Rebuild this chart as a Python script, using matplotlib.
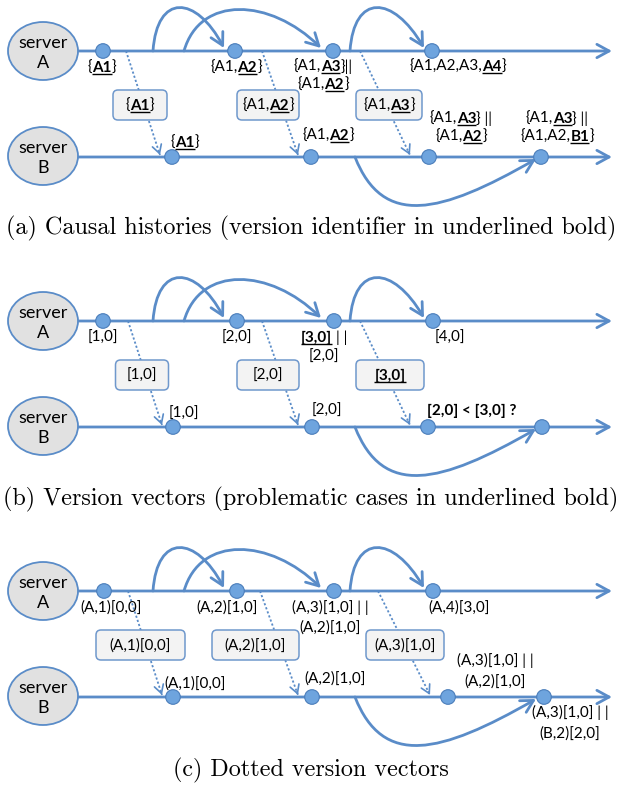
import re
import matplotlib
matplotlib.use('Agg')
import matplotlib.pyplot as plt
from matplotlib.patches import Ellipse, Circle, FancyBboxPatch, FancyArrowPatch
from matplotlib.path import Path

# ---------------- data (texts) ----------------
# markup: _x_ = bold + underlined, *x* = bold
captions = ["(a) Causal histories (version identifier in underlined bold)",
            "(b) Version vectors (problematic cases in underlined bold)",
            "(c) Dotted version vectors"]
servers = ["A", "B"]

a_top = [["{_A1_}"], ["{A1,_A2_}"], ["{A1,_A3_}||", "{A1,_A2_}"], ["{A1,A2,A3,_A4_}"]]
a_msg = ["{_A1_}", "{A1,_A2_}", "{A1,_A3_}"]
a_bot = [["{_A1_}"], ["{A1,_A2_}"], ["{A1,_A3_} ||", "{A1,_A2_}"], ["{A1,_A3_} ||", "{A1,A2,_B1_}"]]

b_top = [["[1,0]"], ["[2,0]"], ["_[3,0]_ | |", "[2,0]"], ["[4,0]"]]
b_msg = ["[1,0]", "[2,0]", "_[3,0]_"]
b_bot = [["[1,0]"], ["[2,0]"], ["*[2,0] < [3,0] ?*"], []]

c_top = [["(A,1)[0,0]"], ["(A,2)[1,0]"], ["(A,3)[1,0] | |", "(A,2)[1,0]"], ["(A,4)[3,0]"]]
c_msg = ["(A,1)[0,0]", "(A,2)[1,0]", "(A,3)[1,0]"]
c_bot = [["(A,1)[0,0]"], ["(A,2)[1,0]"], ["(A,3)[1,0] | |", "(A,2)[1,0]"], ["(A,3)[1,0] | |", "(B,2)[2,0]"]]

# ---------------- layout ----------------
W, H = 621, 787
OFFS = [0, 270, 540]
YA, YB = 51, 157
CAP_Y = [228, 499, 770]

dotsA = [[103, 235, 333, 432], [103, 237, 334, 433], [104, 237, 334, 433]]
dotsB = [[172, 311, 429, 541], [173, 312, 428, 542], [173, 312, 448, 544]]
topX = [[102, 236, 323, 458], [103, 237, 324, 450], [111, 227, 330, 459]]
topY = [[67, 67, 66, 66], [67, 67, 67, 67], [67, 67, 67, 67]]
topDY = [18, 19, 20]
botPos = [[(185, 142), (328, 135), (461, 118), (557, 118)],
          [(184, 143), (327, 140), (472, 140), (0, 0)],
          [(195, 143), (335, 138), (495, 120), (570, 172)]]
botDY = [18, 18, 21]
boxX = [[140, 268, 389], [142, 268, 390], [140.5, 255.5, 405]]
boxW = [[54, 62, 66], [53, 62, 68], [89, 87, 78]]
dotted = [[(126, 160), (262, 298), (360, 410)],
          [(128, 162), (262, 298), (360, 410)],
          [(128, 162), (260, 298), (378, 430)]]

LINE = '#5A8CC8'
EDGE = '#4A7DBA'
DOTF = '#6EA4DE'
FONT = 'Lato'
FS = 11

fig = plt.figure(figsize=(W / 100, H / 100), dpi=100)
ax = fig.add_axes([0, 0, 1, 1])
ax.set_xlim(0, W)
ax.set_ylim(H, 0)
ax.axis('off')
renderer = fig.canvas.get_renderer()


def parse(m):
    segs = []
    for part in re.split(r'(_[^_]*_|\*[^*]*\*)', m):
        if not part:
            continue
        if part[0] == '_':
            segs.append((part[1:-1], True, True))
        elif part[0] == '*':
            segs.append((part[1:-1], True, False))
        else:
            segs.append((part, False, False))
    return segs


def adv(s, bold, size):
    kw = dict(fontsize=size, fontweight='bold' if bold else 'normal', family=FONT)
    t1 = ax.text(0, 0, '|' + s + '|', **kw)
    t2 = ax.text(0, 0, '||', **kw)
    w = t1.get_window_extent(renderer).width - t2.get_window_extent(renderer).width
    t1.remove(); t2.remove()
    return w


def draw_line(xc, yc, m, size=FS, color='black'):
    segs = parse(m)
    widths = [adv(s, b, size) for s, b, u in segs]
    x = xc - sum(widths) / 2
    base = yc + 0.33 * size * 100 / 72
    for (s, b, u), w in zip(segs, widths):
        st = s.lstrip(' ')
        lead = adv(s[:len(s) - len(st)], b, size) if len(st) < len(s) else 0
        t = ax.text(x + lead, base, st.rstrip(' '), fontsize=size, family=FONT,
                    fontweight='bold' if b else 'normal', va='baseline', ha='left',
                    color=color, zorder=6)
        if u:
            iw = t.get_window_extent(renderer).width
            ax.plot([x + lead, x + lead + iw], [base + 2.2, base + 2.2], color=color,
                    lw=1.0, solid_capstyle='butt', zorder=6)
        x += w


def draw_lines(xc, y0, lines, dy):
    for i, m in enumerate(lines):
        draw_line(xc, y0 + i * dy, m)


def bez(p0, c1, c2, p1, off):
    v = [(x, y + off) for x, y in (p0, c1, c2, p1)]
    return Path(v, [Path.MOVETO, Path.CURVE4, Path.CURVE4, Path.CURVE4])


tops = [a_top, b_top, c_top]
msgs = [a_msg, b_msg, c_msg]
bots = [a_bot, b_bot, c_bot]
ARROW = '->,head_length=0.55,head_width=0.3'

for p, off in enumerate(OFFS):
    ya, yb = YA + off, YB + off
    # servers
    for name, y in zip(servers, (ya, yb - 1)):
        ax.add_patch(Ellipse((43, y), 70, 58, facecolor='#E1E1E1', edgecolor=LINE, lw=1.3, zorder=3))
        ax.text(43, y - 8, 'server', fontsize=13, family=FONT, ha='center', va='center', zorder=4)
        ax.text(43, y + 12, name, fontsize=13, family=FONT, ha='center', va='center', zorder=4)
    # timelines
    for y in (ya, yb):
        ax.add_patch(FancyArrowPatch((78, y), (612, y), arrowstyle=ARROW,
                                     mutation_scale=16, lw=2.0, color=LINE, shrinkA=0, shrinkB=0, zorder=2))
    # arcs on A
    arcs = [((153, 51), (157, -7), (196, -5), (224, 48)),
            ((184, 51), (200, -5), (270, -2), (321, 48)),
            ((350, 51), (354, -7), (393, -5), (424, 48))]
    for a in arcs:
        ax.add_patch(FancyArrowPatch(path=bez(*a, off), arrowstyle=ARROW,
                                     mutation_scale=16, lw=2.0, color=LINE, zorder=2))
    # curve on B
    ax.add_patch(FancyArrowPatch(path=bez((355, 157), (383, 228), (440, 214), (536, 159), off),
                                 arrowstyle=ARROW, mutation_scale=16, lw=2.0, color=LINE, zorder=2))
    # dotted messages
    for (x0, x1) in dotted[p]:
        ax.plot([x0, x1], [ya, yb - 2], color=LINE, lw=1.3, linestyle=(0, (1.2, 1.2)), zorder=2)
        dx, dy = x1 - x0, yb - 2 - ya
        ax.add_patch(FancyArrowPatch((x1 - dx * 0.03, yb - 2 - dy * 0.03), (x1, yb - 2),
                                     arrowstyle='->,head_length=0.5,head_width=0.28',
                                     mutation_scale=12, lw=1.2, color=LINE, shrinkA=0, shrinkB=0, zorder=2))
    # boxes
    for xc, bw, m in zip(boxX[p], boxW[p], msgs[p]):
        ax.add_patch(FancyBboxPatch((xc - bw / 2 + 5, 90 + off + 5), bw - 10, 30 - 10,
                                    boxstyle='round,pad=5,rounding_size=5',
                                    facecolor='#F3F3F3', edgecolor='#6F98CC', lw=1.1, zorder=4))
        draw_line(xc, 105 + off, m)
    # dots
    for x in dotsA[p]:
        ax.add_patch(Circle((x, ya), 7.3, facecolor=DOTF, edgecolor=EDGE, lw=0.8, zorder=5))
    for x in dotsB[p]:
        ax.add_patch(Circle((x, yb), 7.3, facecolor=DOTF, edgecolor=EDGE, lw=0.8, zorder=5))
    # labels
    for x, y, lines in zip(topX[p], topY[p], tops[p]):
        draw_lines(x, y + off, lines, topDY[p])
    for (x, y), lines in zip(botPos[p], bots[p]):
        if lines:
            draw_lines(x, y + off, lines, botDY[p])

# captions (serif, Computer Modern)
wmax = 0
for cap in captions:
    t = ax.text(0, 0, cap, fontsize=14, family='cmr10')
    wmax = max(wmax, t.get_window_extent(renderer).width)
    t.remove()
cap_fs = 14 * 614 / wmax
for cap, y in zip(captions, CAP_Y):
    ax.text(311, y, cap, fontsize=cap_fs, family='cmr10', ha='center', va='center')

fig.savefig('out.png', dpi=100)
